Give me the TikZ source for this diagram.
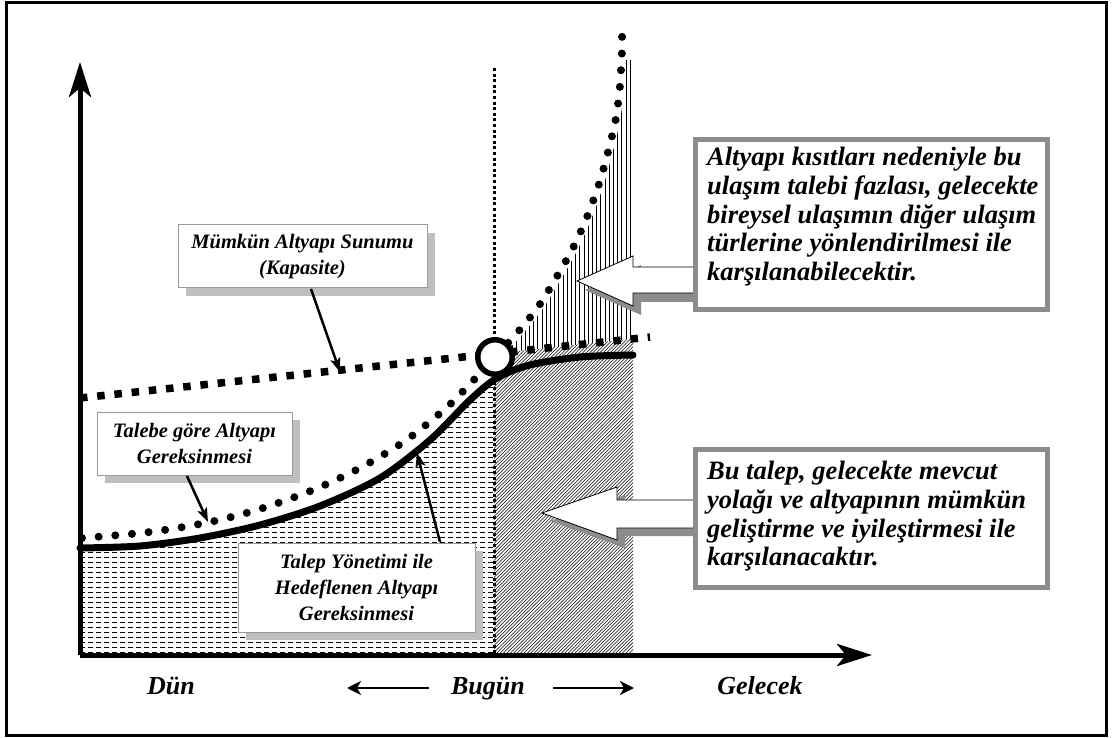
\documentclass[tikz,border=0pt]{standalone}
\usepackage{fontspec}
\setmainfont{Liberation Serif}
\usetikzlibrary{arrows.meta,shadows}
\begin{document}
\begin{tikzpicture}[x=1pt,y=-1pt,
  bigtxt/.style={font=\fontsize{26.5}{28.75}\selectfont\bfseries\itshape, inner sep=0pt, align=left, anchor=north west},
  bigframe/.style={draw=black!45, line width=5pt, fill=white, inner sep=0pt},
  smallbox/.style={draw=gray!80, line width=1pt, fill=white, font=\fontsize{20.5}{26}\selectfont\bfseries\itshape, align=center, inner sep=0pt,
     general shadow={fill=gray!50, shadow xshift=8pt, shadow yshift=-8pt}},
  axislbl/.style={font=\fontsize{26}{30}\selectfont\bfseries\itshape, inner sep=0pt, anchor=base},
  axisline/.style={line width=5pt, -{Stealth[length=35pt,width=22pt,inset=9pt]}},
  conn/.style={line width=2.5pt, -{Stealth[length=14pt,width=10pt,inset=3pt]}},
  smallarrow/.style={line width=2.5pt, -{Stealth[length=14pt,width=14pt,inset=4pt]}},
  blockarrow/.style={draw=black, line width=0.8pt, fill=white},
  blockshadow/.style={fill=black!45},
]
\useasboundingbox (0,0) rectangle (1112,738);
% outer frame
\draw[line width=3pt] (6,2.5) rectangle (1106,735.5);

% ---------- left pattern (below target curve, past)
\begin{scope}
  \clip (80,0) rectangle (494,655);
  \clip (80,655) -- plot[smooth] coordinates {(80,548) (140,546) (200,538) (260,525) (320,506) (380,478) (430,440) (470,400) (497,378) (530,365) (580,357) (633,355)} -- (633,655) -- cycle;
  \foreach \yy in {362,367,...,658} {
    \draw[line width=0.6pt, dash pattern=on 5pt off 3pt] (80,\yy) -- (494,\yy);
  }
\end{scope}

% ---------- right diagonal hatch (future, below capacity)
\begin{scope}
  \clip (494,0) rectangle (633,655);
  \clip (480,355.2) -- (660,335.9) -- (660,655) -- (480,655) -- cycle;
  \foreach \xx in {160,163.4,...,640} {
    \draw[line width=0.55pt] (\xx,660) -- ++(330,-330);
  }
\end{scope}

% ---------- vertical lines (excess demand)
\begin{scope}
  \clip (494,0) rectangle (633,655);
  \clip (480,355.2) -- (660,335.9) -- (660,0) -- (480,0) -- cycle;
  \clip[xshift=4pt, yshift=-3pt] plot[smooth] coordinates {(495,357) (517,333) (538,307) (556,278) (573,248) (587,217) (599,184) (608,152) (616,118) (620,85) (622,50) (622,33)} -- (700,33) -- (700,400) -- (495,400) -- cycle;
  \foreach \xx in {500,504.2,...,632} {
    \draw[line width=0.9pt] (\xx,60) -- (\xx,400);
  }
\end{scope}

% ---------- today line
\coordinate (vtop) at (494,68);
\coordinate (vbot) at (494,655);
\draw[line width=3pt, dash pattern=on 3pt off 2.6pt] (vtop) -- (vbot);

% ---------- axes
\coordinate (O) at (80,655);
\coordinate (ytop) at (80,62);
\coordinate (xend) at (872,655);
\draw[axisline] (O) -- (ytop);
\draw[axisline] (O) -- (xend);

% ---------- target curve (solid)
\draw[line width=7pt, line cap=round] plot[smooth] coordinates {(80,548) (140,546) (200,538) (260,525) (320,506) (380,478) (430,440) (470,400) (497,378) (530,365) (580,357) (633,355)};

% ---------- capacity line
\coordinate (cap0) at (80,398);
\coordinate (cap1) at (650,337);
\draw[line width=7.5pt, dash pattern=on 7.5pt off 9.8pt] (cap0) -- (cap1);

% ---------- demand curve (round dots)
\draw[line width=8pt, line cap=round, dash pattern=on 0pt off 16.7pt] plot[smooth] coordinates {(82,538) (150,532) (210,522) (260,509) (313,490) (360,468) (405,441) (445,409) (470,384) (495,357) (517,333) (538,307) (556,278) (573,248) (587,217) (599,184) (608,152) (616,118) (620,85) (622,50) (622,33)};

% ---------- circle at intersection
\node[circle, draw, line width=5.5pt, fill=white, minimum size=34.5pt, inner sep=0pt] (cross) at (495,357) {};

% ---------- block arrows
\coordinate (tipA) at (577,281);
\coordinate (tipB) at (542,513);
\fill[blockshadow, shift={(8pt,-9pt)}] (577,281) -- (633,256) -- (633,267) -- (695,267) -- (695,293) -- (633,293) -- (633,306) -- cycle;
\draw[blockarrow] (tipA) -- (633,256) -- (633,267) -- (695,267) -- (695,293) -- (633,293) -- (633,306) -- cycle;
\fill[blockshadow, shift={(8pt,-8pt)}] (542,513) -- (617,487) -- (617,500) -- (695,500) -- (695,528) -- (617,528) -- (617,540) -- cycle;
\draw[blockarrow] (tipB) -- (617,487) -- (617,500) -- (695,500) -- (695,528) -- (617,528) -- (617,540) -- cycle;

% ---------- big boxes
\node[bigframe, minimum width=352pt, minimum height=170pt] (boxA) at (871.5,224.5) {};
\node[bigtxt] (txtA) at (707,147) {Altyapı kısıtları nedeniyle bu\\ulaşım talebi fazlası, gelecekte\\bireysel ulaşımın diğer ulaşım\\türlerine yönlendirilmesi ile\\karşılanabilecektir.};
\node[bigframe, minimum width=352pt, minimum height=138pt] (boxB) at (871.5,518.5) {};
\node[bigtxt] (txtB) at (707,461) {Bu talep, gelecekte mevcut\\yolağı ve altyapının mümkün\\geliştirme ve iyileştirmesi ile\\karşılanacaktır.};

% ---------- small label boxes
\node[smallbox, minimum width=249pt, minimum height=63pt] (mumkun) at (302.5,256.5) {Mümkün Altyapı Sunumu\\(Kapasite)};
\node[smallbox, minimum width=195pt, minimum height=63pt] (talebe) at (194.5,443.5) {Talebe göre Altyapı\\Gereksinmesi};
\node[smallbox, minimum width=237pt, minimum height=89pt] (talep) at (356.5,587.5) {Talep Yönetimi ile\\Hedeflenen Altyapı\\Gereksinmesi};

% ---------- connectors
\coordinate (m1) at (311,289);
\coordinate (m2) at (340,372);
\draw[conn] (m1) -- (m2);
\coordinate (g1) at (187,476);
\coordinate (g2) at (208,522);
\draw[conn] (g1) -- (g2);
\coordinate (h1) at (440,542);
\coordinate (h2) at (417,453);
\draw[conn] (h1) -- (h2);

% ---------- axis labels
\node[axislbl] (dun) at (171,694) {Dün};
\node[axislbl] (bugun) at (488,694) {Bugün};
\node[axislbl] (gelecek) at (760,694) {Gelecek};
\coordinate (la0) at (429,688);
\coordinate (la1) at (347,688);
\coordinate (ra0) at (553,688);
\coordinate (ra1) at (634,688);
\draw[smallarrow] (la0) -- (la1);
\draw[smallarrow] (ra0) -- (ra1);
\end{tikzpicture}
\end{document}
